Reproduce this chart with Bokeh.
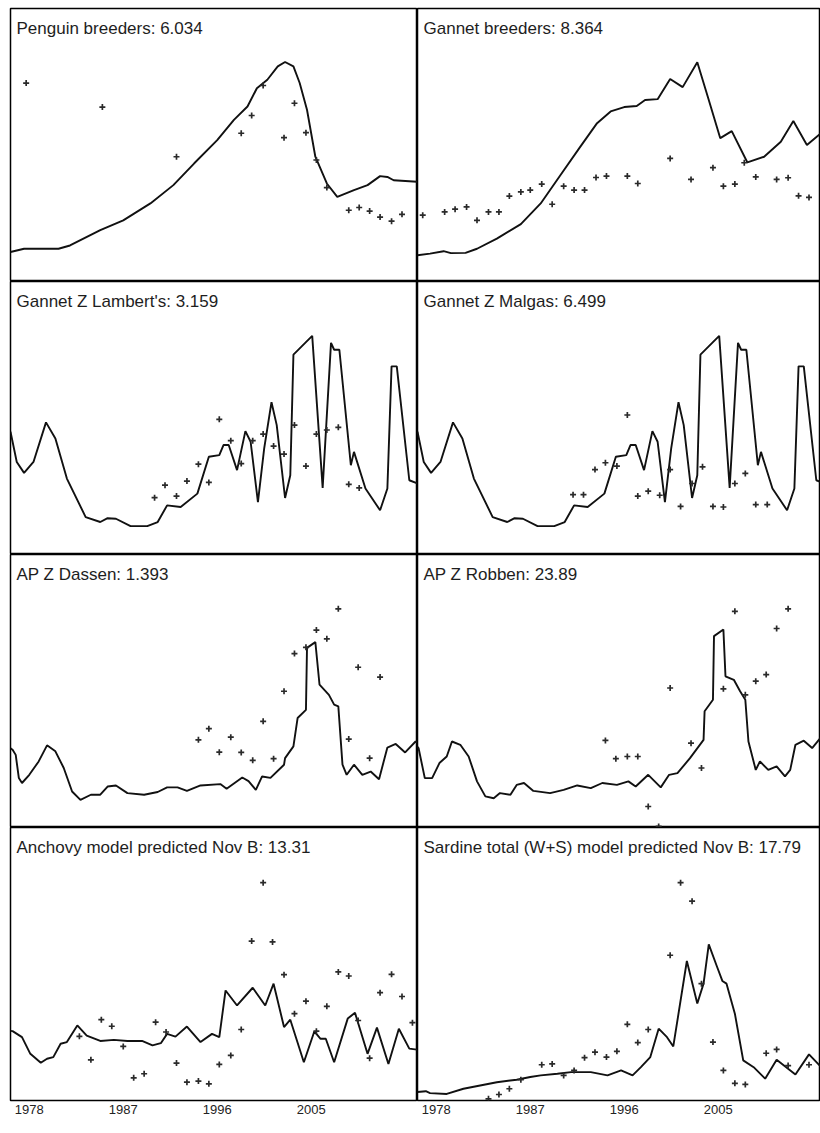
from bokeh.plotting import figure
from bokeh.layouts import gridplot
from bokeh.models import Label, FixedTicker, LinearAxis
from bokeh.embed import file_html
from bokeh.resources import INLINE

# ---------------- data ----------------
tick_years = [1978, 1987, 1996, 2005]
tick_labels = ["1978", "1987", "1996", "2005"]

titles = [
    "Penguin breeders: 6.034",
    "Gannet breeders: 8.364",
    "Gannet Z Lambert's: 3.159",
    "Gannet Z Malgas: 6.499",
    "AP Z Dassen: 1.393",
    "AP Z Robben: 23.89",
    "Anchovy model predicted Nov B: 13.31",
    "Sardine total (W+S) model predicted Nov B: 17.79",
]

penguin_line_x = [1976.2, 1977.5, 1980.8, 1981.9, 1984.8, 1987.0, 1989.6, 1991.8, 1993.8, 1996.0, 1997.6, 1998.9, 1999.8, 2000.8, 2001.8, 2002.5, 2003.3, 2003.9, 2004.6, 2005.4, 2006.5, 2007.5, 2009.1, 2010.4, 2011.6, 2012.3, 2012.9, 2015.2]
penguin_line_y = [10.8, 12.0, 12.0, 13.2, 18.8, 22.4, 28.6, 35.3, 43.3, 51.8, 59.2, 64.1, 70.8, 73.9, 78.8, 80.4, 78.8, 72.7, 62.9, 45.7, 35.9, 31.0, 33.5, 35.3, 38.6, 38.3, 37.1, 36.5]
penguin_obs_x = [1977.7, 1985.0, 1992.1, 1998.3, 1999.3, 2000.4, 2002.4, 2003.4, 2004.5, 2005.5, 2006.5, 2008.6, 2009.6, 2010.6, 2011.6, 2012.7, 2013.7]
penguin_obs_y = [72.7, 63.9, 45.7, 54.3, 60.8, 71.8, 52.7, 65.3, 54.5, 44.5, 34.4, 26.1, 27.1, 25.8, 23.6, 22.1, 24.6]

gannet_line_x = [1976.2, 1977.4, 1978.7, 1979.4, 1980.8, 1981.9, 1983.8, 1986.1, 1988.0, 1989.9, 1991.8, 1993.4, 1994.7, 1996.0, 1997.2, 1998.0, 1999.2, 2000.4, 2001.6, 2003.0, 2004.1, 2005.2, 2006.3, 2007.8, 2009.4, 2011.0, 2012.2, 2013.5, 2015.2]
gannet_line_y = [9.6, 10.2, 11.1, 10.4, 10.5, 12.0, 15.7, 21.0, 28.6, 39.0, 49.4, 58.0, 62.3, 63.9, 64.3, 66.5, 66.8, 74.2, 71.2, 80.3, 66.5, 52.5, 55.1, 43.6, 45.7, 51.2, 58.8, 50.0, 55.5]
gannet_obs_x = [1976.7, 1978.8, 1979.8, 1980.9, 1981.9, 1983.0, 1984.0, 1985.0, 1986.1, 1987.0, 1988.1, 1989.1, 1990.2, 1991.2, 1992.2, 1993.3, 1994.3, 1996.3, 1997.3, 2000.4, 2002.4, 2004.5, 2005.5, 2006.6, 2007.5, 2008.6, 2010.6, 2011.7, 2012.7, 2013.7]
gannet_obs_y = [24.3, 25.5, 26.5, 27.3, 22.4, 25.5, 25.5, 31.3, 32.8, 33.5, 35.7, 28.3, 34.9, 33.5, 33.5, 38.1, 38.6, 38.6, 35.9, 45.1, 37.4, 41.7, 34.9, 35.7, 43.5, 38.3, 37.4, 38.0, 31.4, 30.8]

gannet_z_line_x = [1976.2, 1976.8, 1977.5, 1978.4, 1979.6, 1980.5, 1981.6, 1983.4, 1984.8, 1985.5, 1986.3, 1987.7, 1989.3, 1990.3, 1991.2, 1992.5, 1994.1, 1995.2, 1996.2, 1996.6, 1997.1, 1997.9, 1998.7, 1999.2, 1999.9, 2000.5, 2001.2, 2001.7, 2002.5, 2003.0, 2003.3, 2005.1, 2006.1, 2006.9, 2007.2, 2007.7, 2008.8, 2009.1, 2010.2, 2011.6, 2012.3, 2012.7, 2013.2, 2014.4, 2015.2]
gannet_z_line_y = [45.0, 33.9, 29.9, 33.9, 48.4, 42.5, 27.8, 13.7, 11.9, 13.3, 13.1, 10.4, 10.4, 11.9, 18.0, 17.4, 22.3, 35.8, 36.4, 40.1, 40.1, 30.9, 45.2, 41.3, 19.2, 38.9, 55.8, 47.4, 20.7, 29.0, 73.2, 80.1, 24.4, 77.5, 75.0, 75.0, 32.7, 37.6, 24.2, 16.2, 24.2, 68.9, 68.9, 27.2, 26.0]

lambert_obs_x = [1990.0, 1991.0, 1992.1, 1993.1, 1994.2, 1995.2, 1996.2, 1997.3, 1998.3, 1999.4, 2000.4, 2001.4, 2002.4, 2003.4, 2004.5, 2005.5, 2006.5, 2007.6, 2008.6, 2009.6]
lambert_obs_y = [20.8, 25.4, 21.4, 26.9, 33.1, 26.4, 49.5, 41.7, 33.3, 41.7, 44.1, 39.7, 36.8, 47.4, 32.4, 44.1, 45.6, 46.6, 25.7, 24.4]

malgas_obs_x = [1991.1, 1992.1, 1993.2, 1994.2, 1995.3, 1996.3, 1997.3, 1998.3, 1999.4, 2000.4, 2001.4, 2002.5, 2003.5, 2004.5, 2005.5, 2006.6, 2007.6, 2008.6, 2009.7]
malgas_obs_y = [21.9, 21.9, 31.1, 33.6, 32.4, 51.1, 21.4, 23.2, 21.7, 31.1, 17.6, 26.0, 32.1, 17.6, 17.4, 26.0, 29.7, 18.3, 18.3]

dassen_line_x = [1976.2, 1976.4, 1976.7, 1977.0, 1977.3, 1978.0, 1978.9, 1979.7, 1980.5, 1981.3, 1982.1, 1982.9, 1983.9, 1984.8, 1985.5, 1986.3, 1987.4, 1989.0, 1990.3, 1991.2, 1992.2, 1993.1, 1994.4, 1996.3, 1996.9, 1998.4, 1999.0, 1999.7, 2000.3, 2001.1, 2002.4, 2002.5, 2003.3, 2003.7, 2004.5, 2004.6, 2005.4, 2005.8, 2006.7, 2007.2, 2007.6, 2008.0, 2008.4, 2009.1, 2009.9, 2010.7, 2011.5, 2012.3, 2013.1, 2014.0, 2015.0, 2015.2]
dassen_line_y = [29.0, 28.5, 26.6, 18.1, 16.3, 19.3, 24.2, 30.1, 27.9, 21.8, 13.2, 10.1, 12.0, 12.0, 15.0, 15.4, 12.6, 12.0, 13.0, 14.7, 14.7, 13.4, 15.4, 15.9, 14.2, 18.3, 17.0, 13.8, 18.7, 18.2, 23.0, 25.4, 29.7, 40.1, 43.1, 65.8, 67.9, 52.3, 48.6, 45.0, 44.4, 23.0, 19.3, 23.0, 19.3, 20.5, 17.7, 29.3, 30.6, 27.5, 31.5, 31.0]
dassen_obs_x = [1994.2, 1995.2, 1996.2, 1997.3, 1998.3, 1999.4, 2000.4, 2001.4, 2002.4, 2003.4, 2004.5, 2005.5, 2006.5, 2007.6, 2008.6, 2009.5, 2010.6, 2011.6]
dassen_obs_y = [32.1, 36.2, 27.6, 33.1, 27.5, 24.6, 38.9, 25.2, 49.9, 63.7, 66.0, 72.3, 69.1, 80.1, 32.4, 58.7, 25.4, 55.1]

robben_line_x = [1976.2, 1976.3, 1976.9, 1977.6, 1978.3, 1979.0, 1979.5, 1980.3, 1981.1, 1981.9, 1982.7, 1983.5, 1984.1, 1985.1, 1985.7, 1986.4, 1987.3, 1988.9, 1990.2, 1991.5, 1992.8, 1993.9, 1995.3, 1996.4, 1997.1, 1998.3, 1999.5, 2000.3, 2001.1, 2002.3, 2003.6, 2003.7, 2004.5, 2004.6, 2005.5, 2005.7, 2006.5, 2007.1, 2007.6, 2007.9, 2008.6, 2009.0, 2009.8, 2010.6, 2011.4, 2011.9, 2012.4, 2013.2, 2014.0, 2014.8]
robben_line_y = [29.5, 29.1, 18.1, 18.1, 23.6, 26.0, 31.5, 30.3, 26.0, 16.9, 11.4, 10.7, 12.6, 12.0, 15.6, 16.3, 13.4, 12.6, 13.8, 15.4, 14.4, 16.3, 15.6, 16.9, 15.0, 19.3, 14.7, 19.3, 19.9, 25.4, 32.1, 42.6, 46.8, 70.1, 72.5, 55.4, 54.1, 49.9, 46.8, 31.5, 21.1, 24.2, 21.1, 22.4, 18.7, 21.1, 30.3, 31.8, 29.1, 32.8]
robben_obs_x = [1994.2, 1995.2, 1996.3, 1997.3, 1998.3, 1999.3, 2000.4, 2002.4, 2003.4, 2005.5, 2006.6, 2007.6, 2008.6, 2009.6, 2010.6, 2011.7]
robben_obs_y = [31.9, 25.2, 26.0, 26.0, 7.7, 0.4, 51.1, 30.9, 21.8, 50.8, 79.2, 48.6, 53.6, 56.0, 72.9, 80.1]

anchovy_line_x = [1976.2, 1976.4, 1977.3, 1978.1, 1979.1, 1979.7, 1980.3, 1981.0, 1981.6, 1982.6, 1983.5, 1984.8, 1986.1, 1987.4, 1988.8, 1989.8, 1990.6, 1991.2, 1992.0, 1993.1, 1994.4, 1995.5, 1996.2, 1996.8, 1997.9, 1999.4, 2000.6, 2001.4, 2002.4, 2003.0, 2004.3, 2005.3, 2005.9, 2006.4, 2007.2, 2008.5, 2009.2, 2010.4, 2011.3, 2012.4, 2013.4, 2014.4, 2015.2]
anchovy_line_y = [25.5, 25.4, 23.2, 17.1, 13.8, 15.3, 15.9, 20.8, 21.4, 27.5, 23.8, 21.8, 22.2, 21.8, 21.8, 20.2, 21.0, 24.4, 23.4, 27.1, 21.4, 24.4, 23.2, 40.3, 34.8, 41.3, 34.8, 42.8, 26.9, 29.6, 14.0, 25.3, 22.6, 22.6, 14.0, 30.0, 32.1, 17.1, 26.7, 13.4, 26.3, 19.0, 18.6]
anchovy_obs_x = [1982.8, 1983.9, 1984.9, 1985.9, 1987.0, 1988.0, 1989.0, 1990.1, 1991.1, 1992.1, 1993.1, 1994.2, 1995.2, 1996.2, 1997.3, 1998.3, 1999.3, 2000.4, 2001.3, 2002.4, 2003.4, 2004.5, 2005.5, 2006.5, 2007.6, 2008.6, 2009.5, 2010.6, 2011.6, 2012.7, 2013.7, 2014.7]
anchovy_obs_y = [23.5, 14.9, 29.6, 27.2, 19.8, 8.3, 9.8, 28.7, 25.1, 13.7, 6.7, 7.1, 6.1, 13.2, 16.5, 26.0, 58.4, 79.8, 58.1, 46.1, 31.8, 36.4, 25.4, 34.5, 47.1, 45.6, 29.3, 15.5, 39.5, 46.2, 38.1, 28.5]

sardine_line_x = [1976.2, 1977.0, 1977.4, 1979.0, 1980.6, 1982.2, 1983.8, 1985.7, 1987.0, 1988.0, 1989.6, 1990.9, 1992.8, 1994.4, 1995.7, 1996.8, 1997.6, 1998.5, 1999.3, 2000.1, 2000.7, 2001.2, 2002.0, 2003.0, 2003.6, 2004.1, 2004.9, 2005.4, 2005.8, 2006.6, 2007.4, 2008.4, 2009.5, 2010.6, 2012.4, 2013.7, 2014.8]
sardine_line_y = [3.1, 3.4, 2.7, 2.4, 4.3, 5.5, 6.7, 7.6, 8.6, 9.2, 9.8, 10.4, 10.4, 9.2, 11.0, 9.2, 12.2, 15.9, 26.3, 23.2, 19.8, 31.8, 51.1, 35.5, 42.8, 57.2, 48.9, 43.8, 42.8, 31.8, 14.7, 12.2, 8.0, 14.9, 9.5, 16.9, 12.5]
sardine_obs_x = [1983.0, 1984.0, 1985.0, 1986.1, 1988.1, 1989.1, 1990.2, 1991.2, 1992.2, 1993.2, 1994.3, 1995.3, 1996.3, 1997.3, 1998.3, 2000.4, 2001.4, 2002.5, 2003.4, 2004.5, 2005.5, 2006.6, 2007.6, 2009.6, 2010.6, 2011.7, 2013.7]
sardine_obs_y = [0.6, 2.2, 4.3, 7.6, 13.1, 13.4, 9.2, 11.0, 15.7, 17.7, 15.9, 18.0, 27.9, 21.2, 26.0, 53.2, 79.8, 73.0, 42.8, 21.4, 11.0, 6.3, 5.9, 17.3, 18.7, 12.8, 13.1]

panels = [
    (penguin_line_x, penguin_line_y, penguin_obs_x, penguin_obs_y),
    (gannet_line_x, gannet_line_y, gannet_obs_x, gannet_obs_y),
    (gannet_z_line_x, gannet_z_line_y, lambert_obs_x, lambert_obs_y),
    (gannet_z_line_x, gannet_z_line_y, malgas_obs_x, malgas_obs_y),
    (dassen_line_x, dassen_line_y, dassen_obs_x, dassen_obs_y),
    (robben_line_x, robben_line_y, robben_obs_x, robben_obs_y),
    (anchovy_line_x, anchovy_line_y, anchovy_obs_x, anchovy_obs_y),
    (sardine_line_x, sardine_line_y, sardine_obs_x, sardine_obs_y),
]

# ---------------- layout ----------------
X0 = 1976.2
PX_PER_YEAR = 10.44
FRAME_H = 273
LEFT_FRAME_W = 407
RIGHT_FRAME_W = 403
TITLE_FONT = "Liberation Sans"
TICK_FONT = "Liberation Sans Narrow, Liberation Sans"

rows = []
for i, (lx, ly, ox, oy) in enumerate(panels):
    col = i % 2
    row = i // 2
    left = col == 0
    fw = LEFT_FRAME_W if left else RIGHT_FRAME_W
    bl = 10 if left else 0
    bt = 8 if row == 0 else 0
    bb = 24 if row == 3 else 0
    p = figure(
        width=fw + bl, height=FRAME_H + bt + bb,
        x_range=(X0, X0 + fw / PX_PER_YEAR), y_range=(0, 100),
        output_backend="svg", toolbar_location=None,
        x_axis_location=None, y_axis_location=None,
        min_border_left=bl, min_border_right=0,
        min_border_top=bt, min_border_bottom=bb,
    )
    p.grid.visible = False
    p.background_fill_color = "white"
    p.border_fill_color = "white"
    p.outline_line_color = "black"
    p.outline_line_width = 1.5

    p.line(lx, ly, line_color="#111111", line_width=1.9)
    p.scatter(ox, oy, marker="cross", size=6, line_color="#2a2a2a", line_width=1.7)

    p.add_layout(Label(
        x=6, y=FRAME_H - 19.5, x_units="screen", y_units="screen",
        text=titles[i], text_font=TITLE_FONT, text_font_size="17px",
        text_color="#1e1e1e", text_baseline="alphabetic", text_align="left",
    ))

    if row == 3:
        ax = LinearAxis(ticker=FixedTicker(ticks=tick_years))
        ax.major_label_overrides = {y: t for y, t in zip(tick_years, tick_labels)}
        ax.axis_line_color = None
        ax.major_tick_line_color = None
        ax.minor_tick_line_color = None
        ax.major_tick_out = 0
        ax.major_tick_in = 0
        ax.major_label_standoff = 4
        ax.major_label_text_font = TICK_FONT
        ax.major_label_text_font_size = "13px"
        ax.major_label_text_color = "#222222"
        p.add_layout(ax, "below")

    if left:
        rows.append([p])
    else:
        rows[-1].append(p)

grid = gridplot(rows, toolbar_location=None)

open("out.html", "w").write(file_html(grid, INLINE))
